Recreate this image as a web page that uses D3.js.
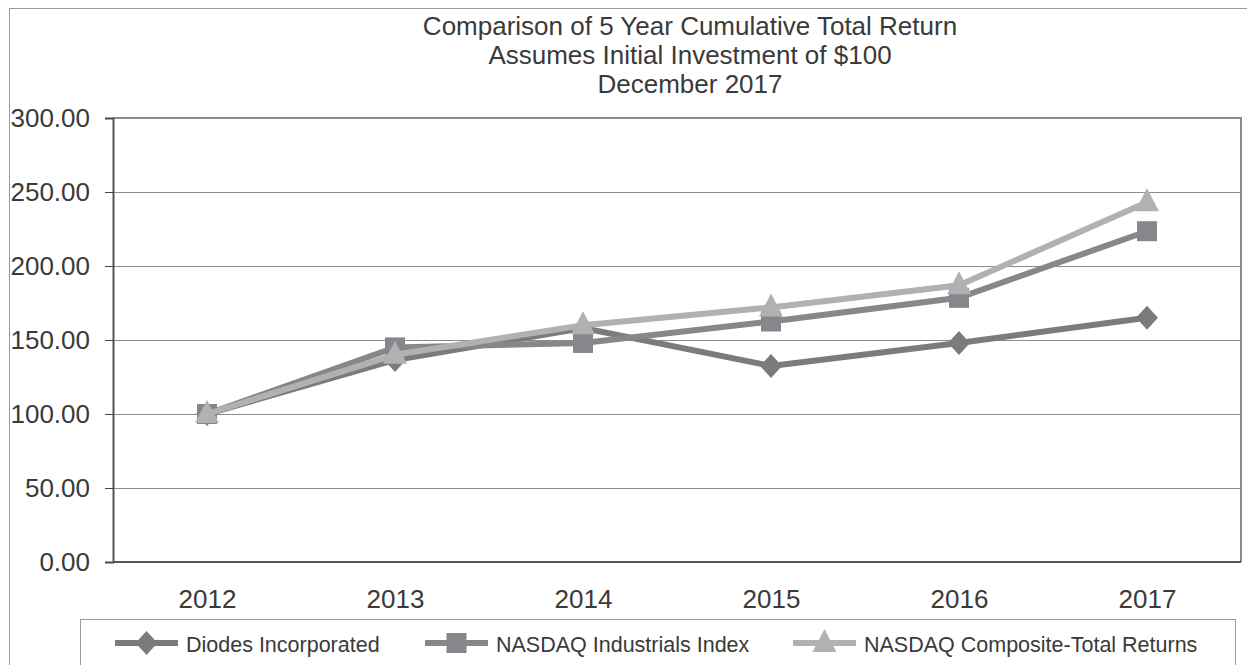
<!DOCTYPE html>
<html>
<head>
<meta charset="utf-8">
<script src="https://cdn.jsdelivr.net/npm/d3@7"></script>
<style>
  body { margin: 0; background: #fff; }
  svg { display: block; font-family: "Liberation Sans", Arial, sans-serif; }
  .tick text { fill: #3a3a3a; }
</style>
</head>
<body>
<div id="chart"></div>
<script>
const years = ['2012', '2013', '2014', '2015', '2016', '2017'];
const diodes = [100, 136.5, 158, 132.5, 148, 165];
const industrials = [100, 145, 148, 162.5, 178.5, 223.5];
const composite = [100, 140, 160, 172, 187, 243];
const yTicks = [0, 50, 100, 150, 200, 250, 300];
const titleLines = [
  'Comparison of 5 Year Cumulative Total Return',
  'Assumes Initial Investment of $100',
  'December 2017'
];

const series = [
  { name: 'Diodes Incorporated', values: diodes, color: '#7b7b7e', shape: 'diamond' },
  { name: 'NASDAQ Industrials Index', values: industrials, color: '#87878b', shape: 'square' },
  { name: 'NASDAQ Composite-Total Returns', values: composite, color: '#b1b1b4', shape: 'triangle' }
];

const width = 1247, height = 665;
const plot = { left: 113, right: 1241, top: 118, bottom: 562 };
const font = '"Liberation Sans", Arial, sans-serif';

const svg = d3.select('#chart').append('svg')
  .attr('width', width)
  .attr('height', height);

// outer frame
svg.append('rect')
  .attr('x', 9.5).attr('y', 8.5)
  .attr('width', width).attr('height', height)
  .attr('fill', 'none').attr('stroke', '#9a9a9a');

svg.append('g').selectAll('text')
  .data(titleLines)
  .enter().append('text')
  .attr('x', 690)
  .attr('y', (d, i) => 35 + i * 29)
  .attr('text-anchor', 'middle')
  .attr('font-size', 26)
  .attr('fill', '#3a3a3a')
  .text(d => d);

const x = d3.scalePoint().domain(years).range([plot.left, plot.right]).padding(0.5);
const y = d3.scaleLinear().domain([0, 300]).range([plot.bottom, plot.top]);

// gridlines
svg.append('g').selectAll('line')
  .data(yTicks.filter(d => d > 0 && d < 300))
  .enter().append('line')
  .attr('x1', plot.left).attr('x2', plot.right)
  .attr('y1', d => Math.round(y(d)) + 0.5).attr('y2', d => Math.round(y(d)) + 0.5)
  .attr('stroke', '#8c8c8c').attr('stroke-width', 1);

// plot frame top/right
svg.append('path')
  .attr('d', `M${plot.left},${plot.top}H${plot.right}V${plot.bottom}`)
  .attr('fill', 'none').attr('stroke', '#8a8a8a').attr('stroke-width', 2);

const yAxis = svg.append('g')
  .attr('transform', `translate(${plot.left},0)`)
  .call(d3.axisLeft(y).tickValues(yTicks).tickFormat(d3.format('.2f')).tickSize(8).tickPadding(15));
yAxis.select('.domain').attr('stroke', '#555').attr('stroke-width', 2);
yAxis.selectAll('.tick line').attr('stroke', '#444');
yAxis.selectAll('.tick text').attr('font-size', 26).attr('font-family', font);

const xAxis = svg.append('g')
  .attr('transform', `translate(0,${plot.bottom})`)
  .call(d3.axisBottom(x).tickSize(0).tickPadding(28));
xAxis.select('.domain').attr('d', `M${plot.left},0H${plot.right}`).attr('stroke', '#555').attr('stroke-width', 2);
xAxis.selectAll('.tick text').attr('font-size', 26).attr('font-family', font);

function markerPath(shape) {
  if (shape === 'diamond') return 'M0,-12L11,0L0,12L-11,0Z';
  if (shape === 'square') return 'M-10,-10H10V10H-10Z';
  return 'M0,-14L12,9H-12Z';
}

const line = d3.line()
  .x((d, i) => x(years[i]))
  .y(d => y(d));

series.forEach(s => {
  const g = svg.append('g');
  g.append('path')
    .attr('d', line(s.values))
    .attr('fill', 'none')
    .attr('stroke', s.color)
    .attr('stroke-width', 6)
    .attr('stroke-linejoin', 'miter');
  g.selectAll('path.m')
    .data(s.values)
    .enter().append('path')
    .attr('class', 'm')
    .attr('transform', (d, i) => `translate(${x(years[i])},${y(d)})`)
    .attr('d', markerPath(s.shape))
    .attr('fill', s.color);
});

// legend
const legend = svg.append('g');
legend.append('rect')
  .attr('x', 80.5).attr('y', 619.5)
  .attr('width', 1155).attr('height', 60)
  .attr('fill', '#fff').attr('stroke', '#9a9a9a');

const legendX = [115, 425, 793];
series.forEach((s, i) => {
  const g = legend.append('g').attr('transform', `translate(${legendX[i]},643)`);
  g.append('line')
    .attr('x1', 0).attr('x2', 63)
    .attr('stroke', s.color).attr('stroke-width', 6);
  g.append('path')
    .attr('transform', 'translate(31.5,0)')
    .attr('d', markerPath(s.shape))
    .attr('fill', s.color);
  g.append('text')
    .attr('x', 71).attr('y', 9)
    .attr('font-size', 21.5)
    .attr('fill', '#3a3a3a')
    .text(s.name);
});
</script>
</body>
</html>
